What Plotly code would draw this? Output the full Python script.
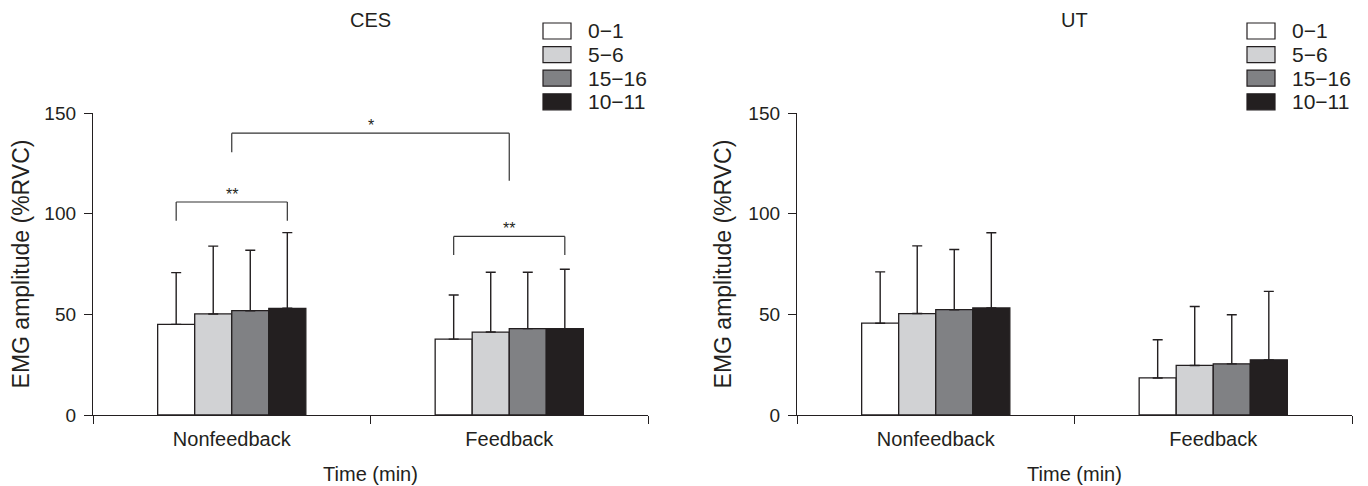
import plotly.graph_objects as go

# ---------------- data ----------------
CATEGORIES = ["Nonfeedback", "Feedback"]
SERIES = ["0\u22121", "5\u22126", "15\u221216", "10\u221211"]
PANELS = ["CES", "UT"]

# mean EMG amplitude (%RVC) per series, [Nonfeedback, Feedback]
CES_MEAN = {
    "0\u22121": [45.0, 37.7],
    "5\u22126": [50.2, 41.2],
    "15\u221216": [51.8, 42.9],
    "10\u221211": [53.0, 42.9],
}
CES_SD = {
    "0\u22121": [25.7, 21.9],
    "5\u22126": [33.7, 29.7],
    "15\u221216": [30.0, 28.0],
    "10\u221211": [37.6, 29.5],
}
UT_MEAN = {
    "0\u22121": [45.6, 18.4],
    "5\u22126": [50.4, 24.6],
    "15\u221216": [52.3, 25.4],
    "10\u221211": [53.2, 27.4],
}
UT_SD = {
    "0\u22121": [25.5, 19.0],
    "5\u22126": [33.6, 29.3],
    "15\u221216": [29.9, 24.4],
    "10\u221211": [37.3, 34.0],
}
Y_TICKS = [0, 50, 100, 150]

# significance brackets: panel, (category, bar index) start, end, top, left leg, right leg, label
BRACKETS = [
    ("CES", (0, 1.5), (1, 1.5), 140.0, 130.5, 116.4, "*"),
    ("CES", (0, 0), (0, 3), 105.8, 96.5, 96.5, "**"),
    ("CES", (1, 0), (1, 3), 88.7, 79.5, 79.5, "**"),
]

# ---------------- style ----------------
COLORS = ["#ffffff", "#d1d2d4", "#808184", "#231f20"]
INK = "#231f20"
FONT = "Liberation Sans, Arial, Helvetica, sans-serif"
BARGAP = 0.466

OFF = 8  # page body margin
W, H = 1360, 478
# plot area in page pixels: x 93..1352, y 113..415
PL, PR, PT, PB = 93 - OFF, W - (1352 - OFF), 113 - OFF, H - (415 - OFF)
pw, ph = W - PL - PR, H - PT - PB


def px_x(px):  # page px -> paper
    return (px - OFF - PL) / pw


def px_y(py):
    return (H - PB - (py - OFF)) / ph


DOMAINS = [[0.0, px_x(648)], [px_x(797), 1.0]]
AXIS_END_PX = [648, 1352]

fig = go.Figure()
means = {"CES": CES_MEAN, "UT": UT_MEAN}
sds = {"CES": CES_SD, "UT": UT_SD}

for p, panel in enumerate(PANELS):
    xa = "x" if p == 0 else "x2"
    ya = "y" if p == 0 else "y2"
    for i, s in enumerate(SERIES):
        fig.add_trace(go.Bar(
            x=CATEGORIES, y=means[panel][s], name=s,
            marker=dict(color=COLORS[i], line=dict(color=INK, width=1.3)),
            error_y=dict(type="data", symmetric=False, array=sds[panel][s],
                         arrayminus=[0] * len(CATEGORIES),
                         color=INK, thickness=1.4, width=5),
            xaxis=xa, yaxis=ya, showlegend=False, offsetgroup=str(i),
        ))

# axes
axis_font = dict(family=FONT, size=20, color=INK)
for p in range(2):
    sfx = "" if p == 0 else "2"
    fig.update_layout(**{
        "xaxis" + sfx: dict(
            domain=DOMAINS[p], type="category", range=[-0.5, 1.5], automargin=False,
            tickson="boundaries", ticks="outside", ticklen=8, tickwidth=1.3,
            tickcolor=INK, showline=True, linecolor=INK, linewidth=1.3,
            showgrid=False, zeroline=False, tickfont=axis_font, ticklabelstandoff=6,
            title=dict(text="Time (min)", font=dict(family=FONT, size=20, color=INK), standoff=17),
            anchor="y" + sfx, fixedrange=True,
        ),
        "yaxis" + sfx: dict(
            domain=[0, 1], range=[0, 150], tickvals=Y_TICKS, automargin=False,
            ticks="outside", ticklen=8, tickwidth=1.3, tickcolor=INK,
            showline=True, linecolor=INK, linewidth=1.3, showgrid=False,
            zeroline=False, tickfont=dict(family=FONT, size=19, color=INK), ticklabelstandoff=4,
            title=dict(text="EMG amplitude (%RVC)", font=dict(family=FONT, size=23, color=INK), standoff=10),
            anchor="x" + sfx, fixedrange=True,
        ),
    })

shapes = []
annotations = []

# bracket geometry from the bar layout
group_w = 1 - BARGAP
bar_w = group_w / len(SERIES)


def bar_center(cat, idx):
    return cat - group_w / 2 + (idx + 0.5) * bar_w


for panel, (c0, b0), (c1, b1), ytop, yl, yr, lab in BRACKETS:
    p = PANELS.index(panel)
    xr = "x" if p == 0 else "x2"
    yref = "y" if p == 0 else "y2"
    xa0, xa1 = bar_center(c0, b0), bar_center(c1, b1)
    line = dict(color="#333333", width=1.2)
    shapes.append(dict(type="line", xref=xr, yref=yref, x0=xa0, x1=xa0, y0=yl, y1=ytop, line=line))
    shapes.append(dict(type="line", xref=xr, yref=yref, x0=xa0, x1=xa1, y0=ytop, y1=ytop, line=line))
    shapes.append(dict(type="line", xref=xr, yref=yref, x0=xa1, x1=xa1, y0=yr, y1=ytop, line=line))
    annotations.append(dict(xref=xr, yref=yref, x=(xa0 + xa1) / 2, y=ytop, text=lab,
                            showarrow=False, yanchor="bottom", yshift=-3,
                            font=dict(family=FONT, size=16, color=INK)))

# panel titles and legends
for p, panel in enumerate(PANELS):
    annotations.append(dict(xref="paper", yref="paper", x=sum(DOMAINS[p]) / 2, y=px_y(20),
                            text=panel, showarrow=False, xanchor="center", yanchor="middle",
                            font=dict(family=FONT, size=20, color=INK)))
    end = AXIS_END_PX[p]
    for i, s in enumerate(SERIES):
        cy = 31 + 23.6 * i
        shapes.append(dict(type="rect", xref="paper", yref="paper",
                           x0=px_x(end - 105), x1=px_x(end - 77),
                           y0=px_y(cy + 8), y1=px_y(cy - 8),
                           fillcolor=COLORS[i], line=dict(color=INK, width=1.2)))
        annotations.append(dict(xref="paper", yref="paper", x=px_x(end - 62), y=px_y(cy),
                                text=s, showarrow=False, xanchor="left", yanchor="middle",
                                font=dict(family=FONT, size=21, color=INK)))

fig.update_layout(
    width=W, height=H, margin=dict(l=PL, r=PR, t=PT, b=PB),
    barmode="group", bargap=BARGAP, bargroupgap=0,
    plot_bgcolor="white", paper_bgcolor="white",
    shapes=shapes, annotations=annotations, showlegend=False,
    font=dict(family=FONT, color=INK),
)

fig.write_html("out.html")
